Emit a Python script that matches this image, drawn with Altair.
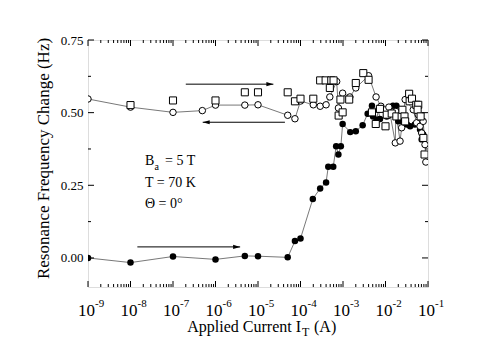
import altair as alt
import pandas as pd

# ---------------- data ----------------
# filled circles: increasing current
filled_x = [1e-9, 1e-8, 1e-7, 1e-6, 4.9e-6, 1e-5, 5e-5, 7.4e-5, 1e-4, 1.95e-4, 2.9e-4, 4e-4,
            4.5e-4, 5.9e-4, 6.9e-4, 7.8e-4, 8.9e-4, 9.8e-4, 1.48e-3, 2e-3, 2.9e-3, 3.8e-3,
            4.8e-3, 5.1e-3, 6.2e-3, 6.8e-3, 7.4e-3, 1.07e-2, 1.5e-2, 1.8e-2, 2e-2, 2.4e-2,
            2.5e-2, 3.2e-2, 3.8e-2, 4.9e-2, 6.5e-2, 7.1e-2, 7.7e-2]
filled_y = [0.000, -0.016, 0.005, -0.005, 0.007, 0.006, 0.002, 0.058, 0.067, 0.203, 0.239, 0.260,
            0.314, 0.314, 0.384, 0.356, 0.384, 0.461, 0.433, 0.436, 0.457, 0.496,
            0.524, 0.487, 0.476, 0.510, 0.478, 0.487, 0.524, 0.524, 0.470, 0.510,
            0.470, 0.459, 0.453, 0.459, 0.442, 0.408, 0.425]

# open circles: decreasing current
open_x = [1e-9, 1e-8, 1e-7, 4.9e-7, 1e-6, 4.9e-6, 1e-5, 5e-5, 7.4e-5, 1e-4, 2e-4, 2.9e-4, 4e-4,
          4.9e-4, 7.1e-4, 7.8e-4, 9.8e-4, 1.45e-3, 2e-3, 4e-3, 6e-3, 7.8e-3, 1.2e-2, 1.7e-2,
          1.75e-2, 2.2e-2, 2.4e-2, 2.9e-2, 4.5e-2, 5.4e-2, 5.9e-2, 6.5e-2, 7.1e-2, 7.7e-2,
          8.5e-2, 8.9e-2]
open_y = [0.547, 0.519, 0.501, 0.507, 0.526, 0.526, 0.527, 0.491, 0.479, 0.540, 0.527, 0.522, 0.527,
          0.554, 0.607, 0.516, 0.567, 0.554, 0.585, 0.627, 0.554, 0.522, 0.519, 0.396,
          0.504, 0.402, 0.448, 0.545, 0.510, 0.465, 0.493, 0.453, 0.430, 0.470,
          0.390, 0.330]

# open squares (unconnected)
square_x = [1e-8, 1e-7, 1e-6, 4.9e-6, 1e-5, 5e-5, 7.4e-5, 1e-4, 2e-4, 2.9e-4, 3.9e-4, 4.9e-4,
            5.3e-4, 6e-4, 7.9e-4, 8.7e-4, 9.8e-4, 1.4e-3, 2e-3, 3e-3, 4e-3, 4.8e-3, 5.9e-3,
            7.4e-3, 1e-2, 1.07e-2, 1.4e-2, 1.8e-2, 2.4e-2, 2.5e-2, 2.8e-2, 2.9e-2, 3.6e-2,
            3.7e-2, 4.2e-2, 5.3e-2, 5.9e-2, 5.7e-2, 6.7e-2, 7.8e-2, 8.3e-2]
square_y = [0.526, 0.542, 0.542, 0.570, 0.570, 0.570, 0.539, 0.548, 0.548, 0.611, 0.611, 0.585,
            0.611, 0.611, 0.490, 0.545, 0.501, 0.545, 0.602, 0.636, 0.613, 0.501, 0.461,
            0.513, 0.453, 0.493, 0.497, 0.487, 0.487, 0.510, 0.487, 0.470, 0.565,
            0.539, 0.548, 0.527, 0.527, 0.510, 0.487, 0.413, 0.356]

# arrows (start current, end current, level)
arrow_r_x0 = [2.0e-7, 1.45e-8]
arrow_r_x1 = [2.3e-5, 3.8e-6]
arrow_r_y = [0.598, 0.038]
arrow_l_x0 = [4.3e-5]
arrow_l_x1 = [5.0e-7]
arrow_l_y = [0.467]

x_major = [1e-9, 1e-8, 1e-7, 1e-6, 1e-5, 1e-4, 1e-3, 1e-2, 1e-1]
x_exp = ["-9", "-8", "-7", "-6", "-5", "-4", "-3", "-2", "-1"]
x_minor = [k * 10.0 ** n for n in range(-9, -1) for k in range(2, 10)]
y_major = [0.0, 0.25, 0.5, 0.75]
y_minor = [0.125, 0.375, 0.625]

# ---------------- chart ----------------
W, H = 340, 247
FONT = "Liberation Serif"
xs = alt.Scale(type="log", domain=[1e-9, 1e-1], nice=False)
ys = alt.Scale(domain=[-0.1, 0.75], nice=False)


def X(field="I"):
    return alt.X(f"{field}:Q", scale=xs, axis=None)


def Y(field="f"):
    return alt.Y(f"{field}:Q", scale=ys, axis=alt.Axis(
        values=y_major, format=".2f", ticks=False, tickSize=0, domain=False, grid=False,
        labelFont=FONT, labelFontSize=13, labelColor="black", labelPadding=5,
        title="Resonance Frequency Change (Hz)", titleFont=FONT, titleFontSize=17,
        titleFontWeight="normal", titleColor="black", titleX=-36, titleY=118))


df_f = pd.DataFrame({"I": filled_x, "f": filled_y})
df_o = pd.DataFrame({"I": open_x, "f": open_y})
df_s = pd.DataFrame({"I": square_x, "f": square_y})

line_f = alt.Chart(df_f).mark_line(color="#555", strokeWidth=0.8, clip=True).encode(x=X(), y=Y())
line_o = alt.Chart(df_o).mark_line(color="#555", strokeWidth=0.8, clip=True).encode(x=X(), y=Y())
pts_f = alt.Chart(df_f).mark_point(shape="circle", filled=True, color="black", size=42,
                                   opacity=1, clip=True).encode(x=X(), y=Y())
pts_o = alt.Chart(df_o).mark_point(shape="circle", filled=True, fill="white", stroke="black",
                                   strokeWidth=1, size=42, opacity=1, clip=True).encode(x=X(), y=Y())
pts_s = alt.Chart(df_s).mark_point(shape="square", filled=True, fill="white", stroke="black",
                                   strokeWidth=1, size=50, opacity=1, clip=True).encode(x=X(), y=Y())

# arrows
df_ar = pd.DataFrame({"I": arrow_r_x0, "I2": arrow_r_x1, "f": arrow_r_y})
df_al = pd.DataFrame({"I": arrow_l_x0, "I2": arrow_l_x1, "f": arrow_l_y})
ar_line = alt.Chart(df_ar).mark_rule(color="black", strokeWidth=1).encode(
    x=X(), x2="I2:Q", y=Y())
al_line = alt.Chart(df_al).mark_rule(color="black", strokeWidth=1).encode(
    x=X(), x2="I2:Q", y=Y())
ar_head = alt.Chart(df_ar).mark_point(shape="M0,0L-2,-0.6L-2,0.6Z", filled=True, color="black",
                                      size=49, opacity=1).encode(x=X("I2"), y=Y())
al_head = alt.Chart(df_al).mark_point(shape="M0,0L2,-0.6L2,0.6Z", filled=True, color="black",
                                      size=49, opacity=1).encode(x=X("I2"), y=Y())

# ticks (inward, mirrored)
df_xM = pd.DataFrame({"I": x_major})
df_xm = pd.DataFrame({"I": x_minor})
df_yM = pd.DataFrame({"f": y_major})
df_ym = pd.DataFrame({"f": y_minor})
tk = dict(color="black", strokeWidth=1)
ticks = [
    alt.Chart(df_xM).mark_rule(**tk).encode(x=X(), y=alt.value(H), y2=alt.value(H - 6)),
    alt.Chart(df_xM).mark_rule(**tk).encode(x=X(), y=alt.value(0), y2=alt.value(6)),
    alt.Chart(df_xm).mark_rule(**tk).encode(x=X(), y=alt.value(H), y2=alt.value(H - 3)),
    alt.Chart(df_xm).mark_rule(**tk).encode(x=X(), y=alt.value(0), y2=alt.value(3)),
    alt.Chart(df_yM).mark_rule(**tk).encode(y=Y(), x=alt.value(0), x2=alt.value(6)),
    alt.Chart(df_yM).mark_rule(**tk).encode(y=Y(), x=alt.value(W), x2=alt.value(W - 6)),
    alt.Chart(df_ym).mark_rule(**tk).encode(y=Y(), x=alt.value(0), x2=alt.value(3)),
    alt.Chart(df_ym).mark_rule(**tk).encode(y=Y(), x=alt.value(W), x2=alt.value(W - 3)),
]

# x tick labels 10^n
df_xl = pd.DataFrame({"I": x_major, "e": x_exp})
lab10 = alt.Chart(df_xl).mark_text(font=FONT, fontSize=17, align="right", baseline="alphabetic",
                                   dx=7, color="black").encode(
    x=X(), y=alt.value(H + 29), text=alt.value("10"))
labexp = alt.Chart(df_xl).mark_text(font=FONT, fontSize=11, align="left", baseline="alphabetic",
                                    dx=7, color="black").encode(
    x=X(), y=alt.value(H + 20), text="e:N")

# x axis title with subscript
one = pd.DataFrame({"k": [0]})


def txt(s, x, y, size, align="left"):
    return alt.Chart(one).mark_text(font=FONT, fontSize=size, align=align, baseline="alphabetic",
                                    color="black").encode(x=alt.value(x), y=alt.value(y),
                                                          text=alt.value(s))


xtitle = [
    txt("Applied Current I", 213, 292, 16, "right"),
    txt("T", 214, 295.5, 12),
    txt("(A)", 226, 292, 16),
]

# annotation
annot = [
    txt("B", 57, 125, 14),
    txt("a", 66.5, 129.5, 10),
    txt("= 5 T", 77, 125, 14),
    txt("T = 70 K", 57, 146.7, 14),
    txt("\u0398 = 0\u00b0", 57, 168.3, 14),
]

chart = alt.layer(
    line_f, line_o, pts_f, pts_o, pts_s,
    ar_line, al_line, ar_head, al_head,
    *ticks, lab10, labexp, *xtitle, *annot
).properties(
    width=W, height=H,
    autosize=alt.AutoSizeParams(type="none"),
    padding={"left": 80, "top": 32, "right": 58, "bottom": 50},
).configure_view(stroke="black", strokeWidth=1.5).configure(background="white")

chart.save("out.html", embed_options={"renderer": "svg", "actions": False})
